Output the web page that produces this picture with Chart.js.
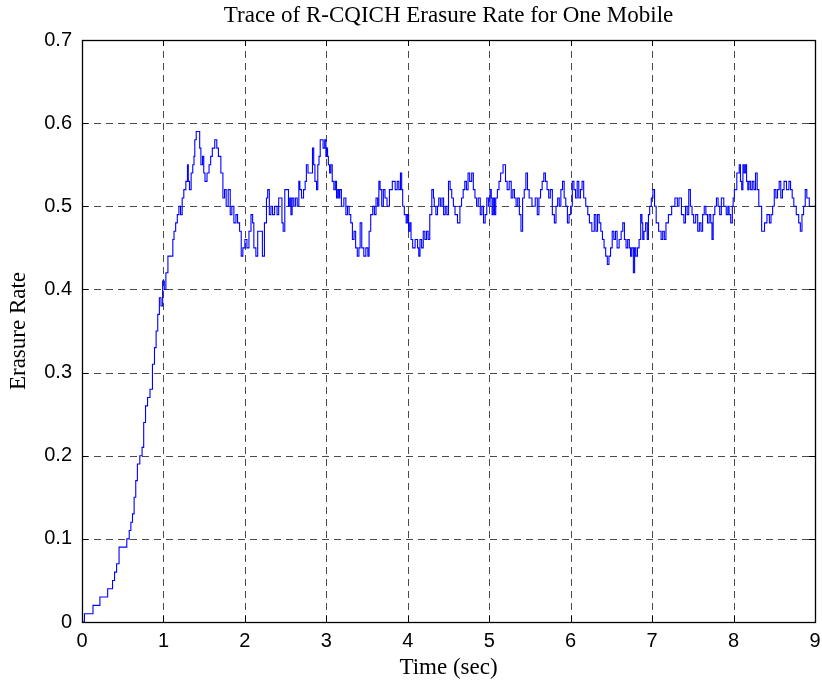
<!DOCTYPE html>
<html>
<head>
<meta charset="utf-8">
<script src="https://cdn.jsdelivr.net/npm/chart.js@4/dist/chart.umd.min.js"></script>
<style>
html,body{margin:0;padding:0;background:#fff;}
canvas{display:block;}
</style>
</head>
<body>
<canvas id="c" width="822" height="690"></canvas>
<script>
const chartTitle = 'Trace of R-CQICH Erasure Rate for One Mobile';
const xTitle = 'Time (sec)';
const yTitle = 'Erasure Rate';

const timeSec = [
0.00,0.06,0.21,0.23,0.30,0.33,0.36,0.39,0.41,0.44,
0.47,0.53,0.57,0.59,0.61,0.63,0.65,0.67,0.69,0.73,
0.745,0.77,0.79,0.82,0.85,0.88,0.90,0.92,0.94,0.96,
0.98,1.00,1.02,1.04,1.07,1.11,1.12,1.14,1.16,1.18,
1.20,1.22,1.24,1.26,1.29,1.30,1.31,1.33,1.35,1.37,
1.38,1.39,1.415,1.44,1.45,1.47,1.49,1.50,1.52,1.55,
1.57,1.59,1.61,1.65,1.66,1.69,1.72,1.74,1.76,1.78,
1.81,1.83,1.85,1.88,1.90,1.92,1.95,1.96,1.99,2.01,
2.04,2.06,2.09,2.10,2.12,2.15,2.165,2.21,2.22,2.26,
2.27,2.29,2.31,2.33,2.35,2.38,2.41,2.42,2.45,2.46,
2.48,2.50,2.53,2.54,2.56,2.57,2.59,2.61,2.63,2.655,
2.67,2.68,2.71,2.73,2.75,2.76,2.79,2.82,2.84,2.85,
2.87,2.89,2.90,2.92,2.93,2.95,2.97,2.99,3.00,3.01,
3.02,3.03,3.05,3.06,3.085,3.10,3.12,3.13,3.15,3.16,
3.17,3.20,3.23,3.25,3.27,3.29,3.31,3.33,3.35,3.37,
3.39,3.41,3.42,3.45,3.47,3.50,3.52,3.53,3.56,3.58,
3.60,3.62,3.64,3.65,3.67,3.69,3.71,3.73,3.76,3.79,
3.83,3.86,3.88,3.90,3.92,3.93,3.945,3.97,3.99,4.00,
4.02,4.03,4.05,4.07,4.11,4.13,4.14,4.16,4.18,4.20,
4.22,4.24,4.26,4.28,4.31,4.32,4.33,4.36,4.37,4.39,
4.41,4.43,4.45,4.47,4.49,4.51,4.53,4.55,4.57,4.59,
4.63,4.65,4.67,4.69,4.71,4.73,4.75,4.77,4.80,4.81,
4.84,4.85,4.88,4.90,4.92,4.94,4.96,4.98,5.00,5.02,
5.03,5.04,5.06,5.07,5.09,5.11,5.13,5.15,5.19,5.21,
5.23,5.26,5.28,5.30,5.32,5.34,5.36,5.38,5.40,5.42,
5.44,5.46,5.48,5.50,5.55,5.58,5.60,5.62,5.64,5.66,
5.68,5.70,5.72,5.74,5.76,5.79,5.81,5.83,5.85,5.87,
5.89,5.91,5.93,5.95,5.97,5.99,6.01,6.03,6.05,6.07,
6.09,6.11,6.13,6.15,6.17,6.20,6.22,6.24,6.28,6.30,
6.32,6.34,6.36,6.38,6.40,6.42,6.44,6.46,6.48,6.50,
6.52,6.54,6.56,6.58,6.61,6.63,6.65,6.67,6.69,6.71,
6.73,6.74,6.76,6.78,6.79,6.81,6.83,6.85,6.87,6.88,
6.89,6.91,6.93,6.95,6.96,6.98,7.00,7.02,7.04,7.06,
7.10,7.12,7.14,7.16,7.18,7.22,7.26,7.30,7.32,7.34,
7.38,7.40,7.42,7.44,7.46,7.48,7.50,7.52,7.55,7.57,
7.59,7.61,7.63,7.65,7.67,7.69,7.71,7.73,7.74,7.76,
7.78,7.80,7.82,7.84,7.86,7.90,7.92,7.94,7.95,7.98,
7.99,8.00,8.02,8.06,8.08,8.09,8.11,8.12,8.14,8.15,
8.17,8.18,8.20,8.22,8.24,8.26,8.28,8.30,8.32,8.37,
8.39,8.43,8.45,8.47,8.49,8.51,8.53,8.55,8.57,8.59,
8.61,8.63,8.67,8.69,8.71,8.73,8.75,8.79,8.81,8.83,
8.85,8.87,8.89,8.91,8.95,9.00
];

const erasureRate = [
0.00,0.01,0.02,0.03,0.03,0.04,0.04,0.05,0.06,0.07,
0.09,0.09,0.10,0.11,0.12,0.13,0.15,0.17,0.19,0.20,
0.21,0.24,0.26,0.27,0.28,0.31,0.33,0.35,0.37,0.39,
0.38,0.41,0.40,0.42,0.44,0.44,0.46,0.47,0.48,0.49,
0.50,0.49,0.51,0.52,0.53,0.55,0.53,0.52,0.54,0.55,
0.56,0.58,0.59,0.59,0.57,0.55,0.56,0.54,0.53,0.54,
0.55,0.56,0.57,0.58,0.57,0.56,0.54,0.51,0.52,0.50,
0.52,0.49,0.50,0.48,0.49,0.48,0.47,0.44,0.45,0.46,
0.45,0.47,0.49,0.48,0.45,0.44,0.47,0.47,0.44,0.48,
0.51,0.52,0.49,0.50,0.49,0.50,0.49,0.51,0.51,0.48,
0.47,0.52,0.52,0.50,0.51,0.49,0.51,0.50,0.51,0.50,
0.53,0.52,0.51,0.52,0.53,0.55,0.54,0.54,0.57,0.55,
0.53,0.52,0.55,0.56,0.58,0.58,0.57,0.58,0.56,0.57,
0.56,0.55,0.54,0.55,0.53,0.52,0.53,0.51,0.52,0.51,
0.52,0.50,0.51,0.49,0.50,0.49,0.48,0.46,0.47,0.45,
0.44,0.45,0.48,0.45,0.44,0.45,0.44,0.47,0.49,0.50,
0.49,0.51,0.50,0.53,0.52,0.50,0.52,0.51,0.50,0.52,
0.53,0.52,0.53,0.52,0.54,0.52,0.50,0.49,0.48,0.49,
0.47,0.48,0.46,0.45,0.46,0.45,0.44,0.46,0.45,0.47,
0.46,0.47,0.46,0.49,0.52,0.51,0.50,0.49,0.50,0.51,
0.50,0.51,0.49,0.50,0.49,0.53,0.52,0.51,0.50,0.49,
0.48,0.50,0.51,0.52,0.53,0.52,0.54,0.53,0.54,0.52,
0.51,0.50,0.51,0.49,0.50,0.48,0.49,0.51,0.50,0.52,
0.51,0.49,0.51,0.49,0.51,0.52,0.53,0.54,0.55,0.53,
0.52,0.53,0.51,0.52,0.51,0.50,0.51,0.49,0.47,0.51,
0.52,0.54,0.52,0.51,0.50,0.51,0.49,0.51,0.52,0.53,
0.54,0.53,0.52,0.51,0.52,0.49,0.48,0.50,0.51,0.50,
0.52,0.53,0.51,0.50,0.48,0.49,0.50,0.53,0.52,0.51,
0.53,0.51,0.52,0.53,0.51,0.50,0.49,0.48,0.47,0.49,
0.47,0.49,0.48,0.47,0.46,0.45,0.44,0.43,0.44,0.45,
0.47,0.46,0.47,0.45,0.46,0.47,0.48,0.46,0.45,0.46,
0.45,0.44,0.45,0.42,0.45,0.44,0.45,0.46,0.49,0.48,
0.46,0.47,0.48,0.46,0.49,0.50,0.51,0.52,0.50,0.48,
0.47,0.46,0.47,0.46,0.48,0.49,0.50,0.51,0.50,0.51,
0.49,0.48,0.50,0.49,0.52,0.50,0.49,0.48,0.49,0.47,
0.48,0.47,0.49,0.50,0.49,0.48,0.49,0.48,0.46,0.49,
0.50,0.51,0.50,0.49,0.51,0.50,0.49,0.50,0.49,0.48,
0.50,0.51,0.52,0.54,0.55,0.53,0.52,0.55,0.54,0.55,
0.53,0.52,0.53,0.52,0.53,0.52,0.54,0.52,0.50,0.47,
0.48,0.49,0.48,0.49,0.50,0.52,0.51,0.52,0.53,0.51,
0.52,0.53,0.52,0.53,0.52,0.51,0.50,0.49,0.48,0.47,
0.49,0.50,0.52,0.51,0.50,0.50
];

const xTickValues = [0,1,2,3,4,5,6,7,8,9];
const yTickValues = [0,0.1,0.2,0.3,0.4,0.5,0.6,0.7];

const n = Math.min(timeSec.length, erasureRate.length);
const points = [];
for (let i = 0; i < n; i++) points.push({x: timeSec[i], y: erasureRate[i]});

const matlabAxes = {
  id: 'matlabAxes',
  beforeDatasetsDraw(chart) {
    const {ctx, chartArea: a, scales: {x, y}} = chart;
    ctx.save();
    ctx.strokeStyle = '#4a4a4a';
    ctx.lineWidth = 1;
    ctx.setLineDash([7, 5]);
    xTickValues.forEach((v, i) => {
      if (i === 0 || i === xTickValues.length - 1) return;
      const px = Math.round(x.getPixelForValue(v)) + 0.5;
      ctx.beginPath(); ctx.moveTo(px, a.bottom); ctx.lineTo(px, a.top); ctx.stroke();
    });
    yTickValues.forEach((v, i) => {
      if (i === 0 || i === yTickValues.length - 1) return;
      const py = Math.round(y.getPixelForValue(v)) + 0.5;
      ctx.beginPath(); ctx.moveTo(a.left, py); ctx.lineTo(a.right, py); ctx.stroke();
    });
    ctx.restore();
  },
  afterDatasetsDraw(chart) {
    const {ctx, chartArea: a, scales: {x, y}} = chart;
    ctx.save();
    ctx.strokeStyle = '#000';
    ctx.lineWidth = 1.3;
    ctx.setLineDash([]);
    ctx.strokeRect(Math.round(a.left) + 0.5, Math.round(a.top) + 0.5, Math.round(a.right - a.left), Math.round(a.bottom - a.top));
    const tl = 6;
    ctx.lineWidth = 1;
    ctx.beginPath();
    xTickValues.forEach(v => {
      const px = Math.round(x.getPixelForValue(v)) + 0.5;
      ctx.moveTo(px, a.bottom); ctx.lineTo(px, a.bottom - tl);
      ctx.moveTo(px, a.top); ctx.lineTo(px, a.top + tl);
    });
    yTickValues.forEach(v => {
      const py = Math.round(y.getPixelForValue(v)) + 0.5;
      ctx.moveTo(a.left, py); ctx.lineTo(a.left + tl, py);
      ctx.moveTo(a.right, py); ctx.lineTo(a.right - tl, py);
    });
    ctx.stroke();
    ctx.restore();
  }
};

new Chart(document.getElementById('c'), {
  type: 'line',
  data: {
    datasets: [{
      data: points,
      borderColor: '#0000ff',
      borderWidth: 1.1,
      pointRadius: 0,
      fill: false,
      stepped: 'middle',
      tension: 0
    }]
  },
  options: {
    responsive: false,
    animation: false,
    events: [],
    layout: {padding: {left: 0, right: 7, top: 0, bottom: 0}},
    plugins: {
      legend: {display: false},
      tooltip: {enabled: false},
      title: {
        display: true,
        text: chartTitle,
        fullSize: false,
        color: '#000',
        font: {family: '"Liberation Serif", "Times New Roman", serif', size: 23, weight: 'normal', lineHeight: 1.2},
        padding: {top: 2.4, bottom: 10}
      }
    },
    scales: {
      x: {
        type: 'linear',
        min: 0, max: 9,
        afterFit: s => { s.height = 68; s.paddingLeft = 0; s.paddingRight = 0; },
        afterBuildTicks: s => { s.ticks = xTickValues.map(v => ({value: v})); },
        grid: {display: false, drawTicks: false},
        border: {display: false},
        ticks: {
          color: '#000',
          padding: 7,
          maxRotation: 0,
          autoSkip: false,
          font: {family: '"Liberation Sans", Arial, sans-serif', size: 20},
          callback: v => String(v)
        },
        title: {
          display: true,
          text: xTitle,
          color: '#000',
          font: {family: '"Liberation Serif", "Times New Roman", serif', size: 23, lineHeight: 1.2},
          padding: {top: 0, bottom: 8}
        }
      },
      y: {
        type: 'linear',
        min: 0, max: 0.7,
        afterFit: s => { s.width = 82; s.paddingTop = 0; s.paddingBottom = 0; },
        afterBuildTicks: s => { s.ticks = yTickValues.map(v => ({value: v})); },
        grid: {display: false, drawTicks: false},
        border: {display: false},
        ticks: {
          color: '#000',
          padding: 10,
          autoSkip: false,
          font: {family: '"Liberation Sans", Arial, sans-serif', size: 20},
          callback: v => String(Math.round(v * 10) / 10)
        },
        title: {
          display: true,
          text: yTitle,
          color: '#000',
          font: {family: '"Liberation Serif", "Times New Roman", serif', size: 23, lineHeight: 1.2},
          padding: {top: 5, bottom: 0}
        }
      }
    }
  },
  plugins: [matlabAxes]
});
</script>
</body>
</html>
